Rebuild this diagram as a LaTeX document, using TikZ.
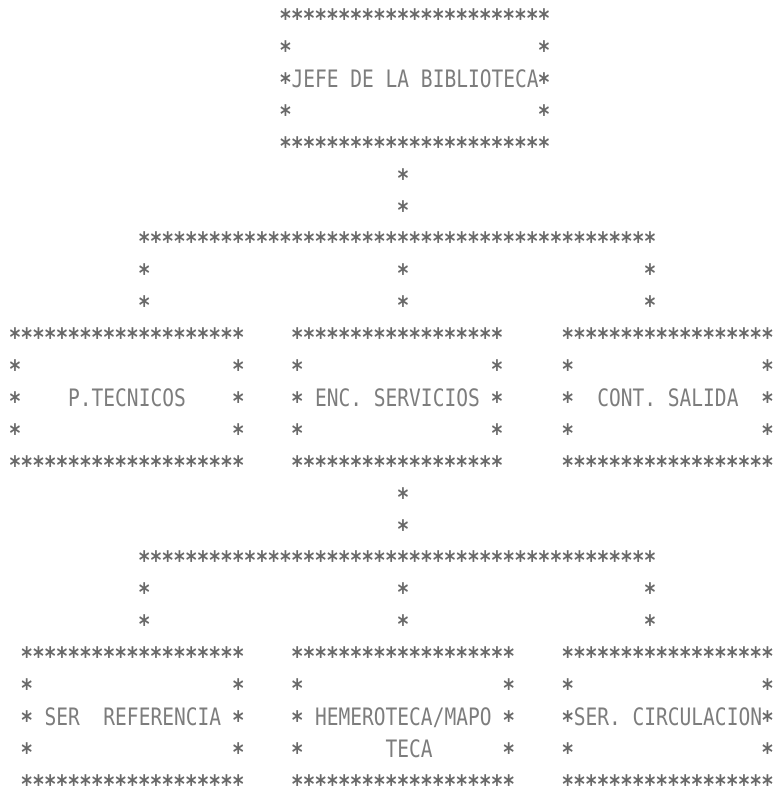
\documentclass[tikz,border=0pt]{standalone}
\usepackage{fontspec}
\newfontfamily\prn[FakeStretch=0.814]{DejaVu Sans Mono}
\definecolor{ink}{RGB}{125,125,125}
\definecolor{inkstar}{RGB}{105,105,105}
% grid: column c -> x = 15 + 11.76 c ; row r -> y = 15 + 31.9 r  (px, y downward)
\newcommand\gx[1]{15+11.76*(#1)}
\newcommand\gy[1]{15+31.9*(#1)}
\newcommand\pst{\raisebox{-0.5em}[0.15em][0.15em]{*}}
\newcommand\srow[3]{\foreach \cc in {#1,...,#2}{\node[astk] at ({\gx{\cc}},{\gy{#3}}) {\pst};}}
\newcommand\sat[2]{\node[astk] at ({\gx{#1}},{\gy{#2}}) {\pst};}
\newcommand\sides[3]{\foreach \rr in {#3}{\sat{#1}{\rr}\sat{#2}{\rr}}}
\begin{document}
\begin{tikzpicture}[x=0.75pt,y=-0.75pt,
  astk/.style={font=\prn\bfseries\fontsize{19}{19}\selectfont, text=inkstar, inner sep=0pt, anchor=base},
  lbl/.style={font=\prn\fontsize{18}{18}\selectfont, text=ink, inner sep=0pt, anchor=base west}]
\useasboundingbox (0,0) rectangle (775,794);
\fill[white] (0,0) rectangle (775,794);

% ---- top box: JEFE DE LA BIBLIOTECA
\srow{23}{45}{0}
\sides{23}{45}{1,2,3}
\srow{23}{45}{4}
\node[lbl] (jefe) at ({\gx{24}-5.88},{\gy{2}+8.8}) {JEFE DE LA BIBLIOTECA};

% connector jefe -> bus 1
\sat{33}{5}\sat{33}{6}
\srow{11}{54}{7}
\foreach \k in {11,33,54}{\sat{\k}{8}\sat{\k}{9}}

% ---- second level boxes
\srow{0}{19}{10}\srow{24}{41}{10}\srow{47}{64}{10}
\sides{0}{19}{11,12,13}
\sides{24}{41}{11,12,13}
\sides{47}{64}{11,12,13}
\srow{0}{19}{14}\srow{24}{41}{14}\srow{47}{64}{14}
\node[lbl] (ptec) at ({\gx{5}-5.88},{\gy{12}+8.8}) {P.TECNICOS};
\node[lbl] (enc) at ({\gx{26}-5.88},{\gy{12}+8.8}) {ENC. SERVICIOS};
\node[lbl] (cont) at ({\gx{50}-5.88},{\gy{12}+8.8}) {CONT. SALIDA};

% connector enc -> bus 2
\sat{33}{15}\sat{33}{16}
\srow{11}{54}{17}
\foreach \k in {11,33,54}{\sat{\k}{18}\sat{\k}{19}}

% ---- third level boxes
\srow{1}{19}{20}\srow{24}{42}{20}\srow{47}{64}{20}
\sides{1}{19}{21,22,23}
\sides{24}{42}{21,22,23}
\sides{47}{64}{21,22,23}
\srow{1}{19}{24}\srow{24}{42}{24}\srow{47}{64}{24}
\node[lbl] (ref) at ({\gx{3}-5.88},{\gy{22}+8.8}) {SER\ \ REFERENCIA};
\node[lbl] (hem) at ({\gx{26}-5.88},{\gy{22}+8.8}) {HEMEROTECA/MAPO};
\node[lbl] (hem2) at ({\gx{32}-5.88},{\gy{23}+8.8}) {TECA};
\node[lbl] (circ) at ({\gx{48}-5.88},{\gy{22}+8.8}) {SER. CIRCULACION};
\end{tikzpicture}
\end{document}
